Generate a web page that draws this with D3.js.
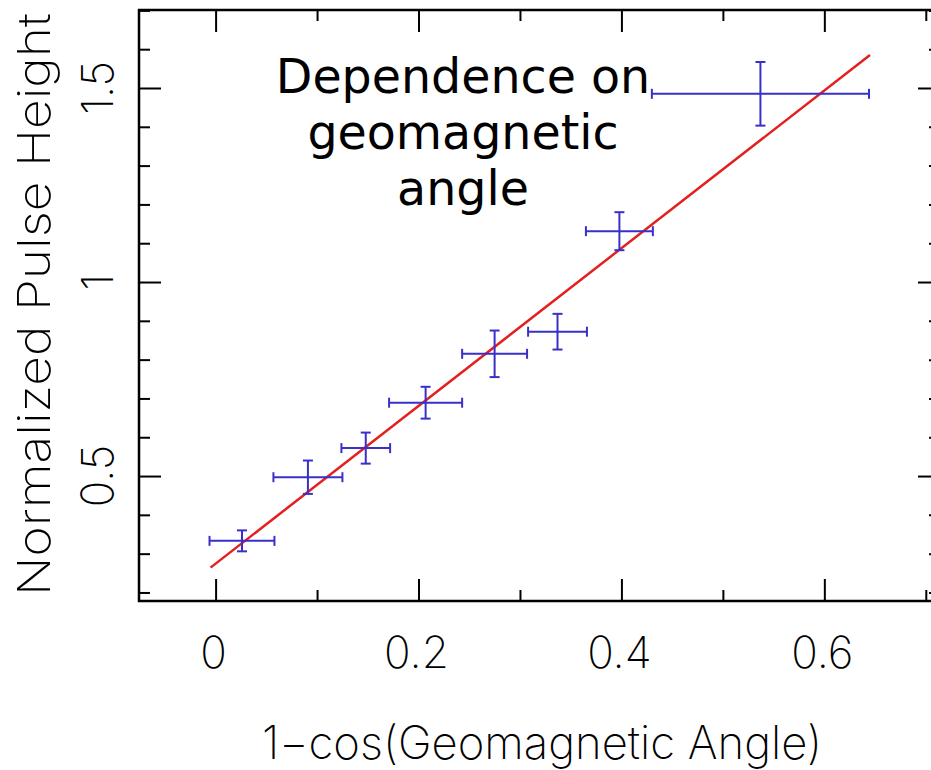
<!DOCTYPE html>
<html>
<head>
<meta charset="utf-8">
<script src="https://cdn.jsdelivr.net/npm/d3@7"></script>
<style>
  html, body { margin: 0; padding: 0; background: #ffffff; }
  svg { display: block; }
  .lbl { font-family: "Inter", "Roboto", "DejaVu Sans", sans-serif; font-weight: 200; fill: #000; }
</style>
</head>
<body>
<svg id="chart" width="931" height="770"></svg>
<script>
// Measured points: 1-cos(geomagnetic angle) vs normalized pulse height
const xCenters = [0.026, 0.091, 0.148, 0.207, 0.275, 0.337, 0.398, 0.537];
const yCenters = [0.333, 0.497, 0.572, 0.689, 0.815, 0.872, 1.131, 1.485];
const xErrors  = [0.032, 0.034, 0.024, 0.036, 0.032, 0.029, 0.033, 0.107];
const yErrors  = [0.027, 0.043, 0.040, 0.041, 0.060, 0.046, 0.049, 0.082];

// Linear fit, given by its two end points
const fitX = [-0.005, 0.645];
const fitY = [0.264, 1.585];

// Axis ticks and labels
const xMajorTicks = [0, 0.2, 0.4, 0.6];
const xMinorTicks = [0.1, 0.3, 0.5, 0.7];
const xTickLabels = ["0", "0.2", "0.4", "0.6"];
const yMajorTicks = [0.5, 1, 1.5];
const yMinorTicks = [0.2, 0.3, 0.4, 0.6, 0.7, 0.8, 0.9, 1.1, 1.2, 1.3, 1.4, 1.6, 1.7];
const yTickLabels = ["0.5", "1", "1.5"];

const xTitle = "1\u2212cos(Geomagnetic Angle)";
const yTitle = "Normalized Pulse Height";
const titleLines = ["Dependence on", "geomagnetic", "angle"];

const svg = d3.select("#chart");
const frame = { left: 139, right: 940, top: 10, bottom: 601 };

const x = d3.scaleLinear().domain([-0.0755, 0.714]).range([frame.left, frame.right]);
const y = d3.scaleLinear().domain([0.178, 1.701]).range([frame.bottom, frame.top]);

const major = 22, minor = 11;

// Inward-pointing ticks on all four sides
function tickAxis(axisFn, scale, values, size, transform) {
  const g = svg.append("g").attr("transform", transform)
    .call(axisFn(scale).tickValues(values).tickSize(size).tickSizeOuter(0).tickFormat(""));
  g.select(".domain").remove();
  g.selectAll(".tick line").attr("stroke", "#000").attr("stroke-width", 2);
}
tickAxis(d3.axisBottom, x, xMajorTicks, -major, `translate(0,${frame.bottom})`);
tickAxis(d3.axisBottom, x, xMinorTicks, -minor, `translate(0,${frame.bottom})`);
tickAxis(d3.axisTop, x, xMajorTicks, -major, `translate(0,${frame.top})`);
tickAxis(d3.axisTop, x, xMinorTicks, -minor, `translate(0,${frame.top})`);
tickAxis(d3.axisLeft, y, yMajorTicks, -major, `translate(${frame.left},0)`);
tickAxis(d3.axisLeft, y, yMinorTicks, -minor, `translate(${frame.left},0)`);
tickAxis(d3.axisRight, y, yMajorTicks, -major, `translate(${frame.right},0)`);
tickAxis(d3.axisRight, y, yMinorTicks, -minor, `translate(${frame.right},0)`);

// Frame
svg.append("rect")
  .attr("x", frame.left).attr("y", frame.top)
  .attr("width", frame.right - frame.left).attr("height", frame.bottom - frame.top)
  .attr("fill", "none").attr("stroke", "#000").attr("stroke-width", 2.5);

// Tick labels
svg.append("g").selectAll("text").data(xMajorTicks).join("text")
  .attr("class", "lbl")
  .attr("x", d => x(d) - 2)
  .attr("y", 668)
  .attr("text-anchor", "middle")
  .attr("font-size", 44)
  .text((d, i) => xTickLabels[i]);

svg.append("g").selectAll("text").data(yMajorTicks).join("text")
  .attr("class", "lbl")
  .attr("transform", d => `translate(113,${y(d)}) rotate(-90)`)
  .attr("text-anchor", "middle")
  .attr("font-size", 44)
  .text((d, i) => yTickLabels[i]);

// Axis titles
svg.append("text").attr("class", "lbl")
  .attr("x", 262).attr("y", 759)
  .attr("font-size", 46)
  .attr("textLength", 560).attr("lengthAdjust", "spacingAndGlyphs")
  .text(xTitle);

svg.append("text").attr("class", "lbl")
  .attr("transform", "translate(50,596) rotate(-90)")
  .attr("font-size", 45)
  .attr("textLength", 583).attr("lengthAdjust", "spacingAndGlyphs")
  .text(yTitle);

// Fit line
svg.append("line")
  .attr("x1", x(fitX[0])).attr("y1", y(fitY[0]))
  .attr("x2", x(fitX[1])).attr("y2", y(fitY[1]))
  .attr("stroke", "#e32020").attr("stroke-width", 2.5);

// Error bars
const blue = "#3a30c8";
const cap = 5;
const pts = xCenters.map((xc, i) => ({ x: xc, y: yCenters[i], dx: xErrors[i], dy: yErrors[i] }));
const eb = svg.append("g").attr("stroke", blue).attr("stroke-width", 2).attr("fill", "none");
const pg = eb.selectAll("g").data(pts).join("g");
pg.append("line")
  .attr("x1", d => x(d.x - d.dx)).attr("x2", d => x(d.x + d.dx))
  .attr("y1", d => y(d.y)).attr("y2", d => y(d.y));
pg.append("line")
  .attr("x1", d => x(d.x)).attr("x2", d => x(d.x))
  .attr("y1", d => y(d.y - d.dy)).attr("y2", d => y(d.y + d.dy));
// caps
pg.append("line")
  .attr("x1", d => x(d.x - d.dx)).attr("x2", d => x(d.x - d.dx))
  .attr("y1", d => y(d.y) - cap).attr("y2", d => y(d.y) + cap);
pg.append("line")
  .attr("x1", d => x(d.x + d.dx)).attr("x2", d => x(d.x + d.dx))
  .attr("y1", d => y(d.y) - cap).attr("y2", d => y(d.y) + cap);
pg.append("line")
  .attr("x1", d => x(d.x) - cap).attr("x2", d => x(d.x) + cap)
  .attr("y1", d => y(d.y - d.dy)).attr("y2", d => y(d.y - d.dy));
pg.append("line")
  .attr("x1", d => x(d.x) - cap).attr("x2", d => x(d.x) + cap)
  .attr("y1", d => y(d.y + d.dy)).attr("y2", d => y(d.y + d.dy));

// Annotation
svg.append("g").selectAll("text").data(titleLines).join("text")
  .attr("x", 463)
  .attr("y", (d, i) => 93 + i * 56)
  .attr("text-anchor", "middle")
  .attr("font-family", "DejaVu Sans, Verdana, sans-serif")
  .attr("font-size", 47.5)
  .attr("fill", "#000")
  .text(d => d);
</script>
</body>
</html>
